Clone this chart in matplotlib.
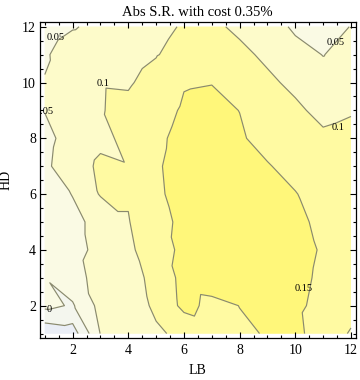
import matplotlib
matplotlib.use("Agg")
import numpy as np
import matplotlib.pyplot as plt
import matplotlib.tri as mtri
from matplotlib.ticker import MultipleLocator

# ---- data (rows: HD = 1..12, columns: LB = 1..12) ----
lb = [1, 2, 3, 4, 5, 6, 7, 8, 9, 10, 11, 12]
hd = [1, 2, 3, 4, 5, 6, 7, 8, 9, 10, 11, 12]

sr_hd1 = [-0.088, -0.075, 0.051, 0.075, 0.092, 0.113, 0.130, 0.145, 0.152, 0.165, 0.120, 0.097]
sr_hd2 = [0.012, -0.005, 0.065, 0.070, 0.110, 0.162, 0.140, 0.1505, 0.165, 0.160, 0.135, 0.112]
sr_hd3 = [0.0011, 0.030, 0.070, 0.080, 0.115, 0.165, 0.170, 0.175, 0.172, 0.165, 0.140, 0.130]
sr_hd4 = [0.028, 0.038, 0.060, 0.090, 0.130, 0.160, 0.172, 0.178, 0.175, 0.168, 0.145, 0.135]
sr_hd5 = [0.030, 0.042, 0.060, 0.0976, 0.138, 0.158, 0.170, 0.175, 0.170, 0.160, 0.140, 0.130]
sr_hd6 = [0.035, 0.051, 0.104, 0.104, 0.143, 0.165, 0.175, 0.172, 0.165, 0.152, 0.130, 0.125]
sr_hd7 = [0.043, 0.072, 0.110, 0.102, 0.145, 0.167, 0.175, 0.168, 0.153, 0.135, 0.120, 0.125]
sr_hd8 = [0.040, 0.065, 0.088, 0.112, 0.140, 0.165, 0.170, 0.155, 0.135, 0.125, 0.110, 0.118]
sr_hd9 = [0.051, 0.070, 0.098, 0.110, 0.130, 0.156, 0.160, 0.1495, 0.130, 0.110, 0.085, 0.095]
sr_hd10 = [0.052, 0.070, 0.0975, 0.096, 0.115, 0.147, 0.149, 0.135, 0.110, 0.088, 0.065, 0.070]
sr_hd11 = [0.045, 0.072, 0.075, 0.085, 0.098, 0.115, 0.125, 0.112, 0.090, 0.065, 0.049, 0.065]
sr_hd12 = [0.030, 0.047, 0.060, 0.075, 0.088, 0.104, 0.110, 0.090, 0.070, 0.043, 0.035, 0.051]

contour_levels = [-0.05, 0.0, 0.05, 0.1, 0.15]
label_texts = ["0.05", "0.1", "0.05", "0.05", "0.1", "0.15", "0"]

# ---- build grid / triangulation ----
rows = [sr_hd1, sr_hd2, sr_hd3, sr_hd4, sr_hd5, sr_hd6, sr_hd7, sr_hd8,
        sr_hd9, sr_hd10, sr_hd11, sr_hd12]
Z = np.array(rows, dtype=float)
X, Y = np.meshgrid(np.array(lb, float), np.array(hd, float))
nx, ny = len(lb), len(hd)
tris = []
for j in range(ny - 1):
    for i in range(nx - 1):
        p00 = j * nx + i
        p10 = j * nx + i + 1
        p01 = (j + 1) * nx + i
        p11 = (j + 1) * nx + i + 1
        tris.append([p00, p10, p01])
        tris.append([p10, p11, p01])
tri = mtri.Triangulation(X.ravel(), Y.ravel(), np.array(tris))

plt.rcParams['font.family'] = ['Liberation Serif', 'DejaVu Serif']

fig = plt.figure(figsize=(3.6, 3.8), dpi=100)
ax = fig.add_axes([39.5 / 360, 1 - 338 / 380, (355.7 - 39.5) / 360, (338 - 22) / 380])

band_colors = ['#eaeef6', '#f4f6ee', '#fafae4', '#fdfbca', '#fffaa2', '#fff77a']
fill_levels = [Z.min() - 1] + contour_levels + [Z.max() + 1]
for _ in range(2):
    ax.tricontourf(tri, Z.ravel(), levels=fill_levels, colors=band_colors, antialiased=True)
ax.tricontour(tri, Z.ravel(), levels=contour_levels, colors='#8a8a6e',
              linewidths=0.85, linestyles='solid')

label_pos = [(1.40, 11.61), (3.08, 9.96), (1.0, 8.96), (11.46, 11.45),
             (11.53, 8.37), (10.31, 2.63), (1.15, 1.85)]
for (px, py), s in zip(label_pos, label_texts):
    ax.text(px, py, s, ha='center', va='center', fontsize=7.5, color='black', clip_on=True)

ax.set_xlim(0.81, 12.17)
ax.set_ylim(0.84, 12.17)
ax.xaxis.set_major_locator(MultipleLocator(2))
ax.xaxis.set_minor_locator(MultipleLocator(0.5))
ax.yaxis.set_major_locator(MultipleLocator(2))
ax.yaxis.set_minor_locator(MultipleLocator(0.5))
ax.tick_params(which='both', direction='in', top=True, right=True, width=0.8)
ax.tick_params(which='major', length=4.0, labelsize=10)
ax.tick_params(axis='x', which='major', pad=4.5)
ax.tick_params(axis='y', which='major', pad=2.5)
ax.tick_params(which='minor', length=2.2)
for s in ax.spines.values():
    s.set_linewidth(0.9)

ax.set_title("Abs S.R. with cost 0.35%", fontsize=10.5, pad=4)
ax.set_xlabel("LB", fontsize=10, labelpad=5)
ax.set_ylabel("HD", fontsize=10, labelpad=7)

fig.savefig("out.png", dpi=100)
